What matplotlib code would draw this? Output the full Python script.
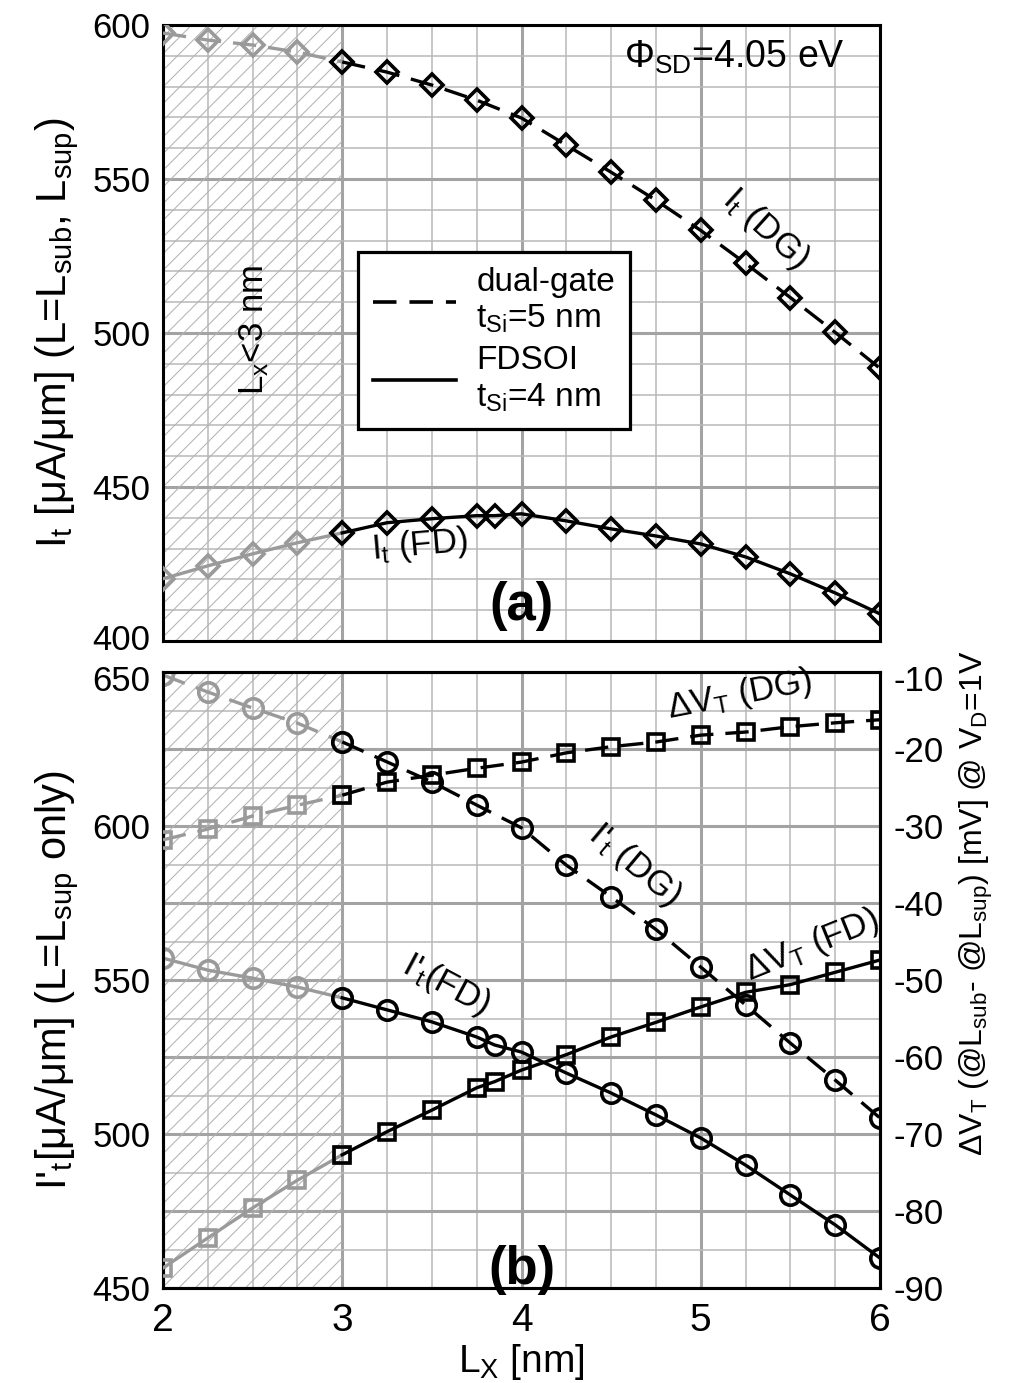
import numpy as np
import matplotlib
matplotlib.use("Agg")
import matplotlib.pyplot as plt
import matplotlib.transforms as mtransforms
from matplotlib.lines import Line2D
from matplotlib.ticker import MultipleLocator, FuncFormatter

plt.rcParams['font.family'] = ['Liberation Sans', 'DejaVu Sans']
plt.rcParams['mathtext.fontset'] = 'custom'
plt.rcParams['mathtext.rm'] = 'Liberation Sans'
plt.rcParams['mathtext.it'] = 'Liberation Sans:italic'
plt.rcParams['mathtext.bf'] = 'Liberation Sans:bold'
plt.rcParams['mathtext.default'] = 'regular'
plt.rcParams['axes.unicode_minus'] = False
plt.rcParams['hatch.linewidth'] = 0.75
plt.rcParams['hatch.color'] = '#b3b3b3'

# ---------------- data ----------------
L = [2.0, 2.25, 2.5, 2.75, 3.0, 3.25, 3.5, 3.75, 4.0, 4.25, 4.5, 4.75, 5.0, 5.25, 5.5, 5.75, 6.0]
L_fd = [2.0, 2.25, 2.5, 2.75, 3.0, 3.25, 3.5, 3.75, 3.85, 4.0, 4.25, 4.5, 4.75, 5.0, 5.25, 5.5, 5.75, 6.0]

# (a) I_t [uA/um]
It_DG = [597.4, 595.1, 593.5, 591.2, 588.0, 584.7, 580.5, 575.6, 569.8, 561.0, 552.2, 543.1,
         533.3, 522.6, 511.5, 500.2, 488.5]
It_FD = [420.2, 424.4, 428.3, 431.9, 435.1, 438.4, 439.7, 440.7, 440.7, 441.3, 439.0, 436.4,
         434.1, 431.5, 427.3, 421.8, 415.6, 408.8]

# (b) I't [uA/um] (left axis)
Itp_DG = [649.0, 643.5, 638.3, 633.4, 627.3, 620.8, 614.3, 606.8, 599.4, 587.3, 577.0, 566.4,
          554.2, 541.9, 529.5, 517.5, 505.2]
Itp_FD = [557.1, 553.2, 550.6, 547.7, 544.2, 540.3, 536.4, 531.5, 528.9, 526.6, 519.8, 513.3,
          506.2, 498.7, 489.9, 480.2, 470.5, 459.7]

# (b) delta V_T [mV] (right axis)
dVT_DG = [-31.8, -30.4, -28.7, -27.3, -26.0, -24.3, -23.4, -22.5, -21.7, -20.5, -19.7, -19.1,
          -18.2, -17.8, -17.1, -16.6, -16.2]
dVT_FD = [-87.4, -83.5, -79.6, -76.0, -72.7, -69.7, -66.9, -64.0, -63.2, -61.7, -59.7, -57.4,
          -55.5, -53.5, -51.6, -50.6, -49.0, -47.4]

yticksA = [400, 450, 500, 550, 600]
yticksB = [450, 475, 500, 525, 550, 575, 600, 625, 650]
yticksB2 = [-90, -80, -70, -60, -50, -40, -30, -20, -10]
xticks = [2, 3, 4, 5, 6]

L_CUT = 3.0

# ---------------- style ----------------
GRAY = '#9a9a9a'
LW = 2.4
MEW = 2.6
DASH = (0, (7.0, 3.6))
FS_YTICK = 25
FS_XTICK = 28
FS_YLAB = 30

fig = plt.figure(figsize=(10.13, 13.83), dpi=100)
axA = fig.add_axes([163/1013, 1-641/1383, 717/1013, 616/1383])
axB = fig.add_axes([163/1013, 1-1288/1383, 717/1013, 616/1383])


def plot_split(ax, x, y, ls, marker, ms):
    x = np.asarray(x); y = np.asarray(y)
    m1 = x <= L_CUT
    m2 = x >= L_CUT
    ax.plot(x[m1], y[m1], color=GRAY, ls=ls, lw=LW, marker=marker, ms=ms,
            mfc='none', mec=GRAY, mew=MEW, zorder=3)
    ax.plot(x[m2], y[m2], color='k', ls=ls, lw=LW, marker=marker, ms=ms,
            mfc='none', mec='k', mew=MEW, zorder=4)


def style_axes(ax):
    ax.set_xlim(2, 6)
    ax.set_xticks(xticks)
    ax.xaxis.set_minor_locator(MultipleLocator(0.25))
    ax.grid(True, which='major', color='#a3a3a3', lw=2.2)
    ax.grid(True, which='minor', color='#b8b8b8', lw=1.1)
    ax.set_axisbelow(True)
    ax.tick_params(which='both', length=0)
    ax.tick_params(axis='y', pad=9, labelsize=FS_YTICK)
    ax.tick_params(axis='x', pad=11, labelsize=FS_XTICK)
    for s in ax.spines.values():
        s.set_linewidth(2.2)
        s.set_color('k')
    ax.axvspan(2, L_CUT, facecolor='none', edgecolor='#b3b3b3', hatch='//', lw=0, zorder=1)


# ---------------- panel (a) ----------------
style_axes(axA)
axA.set_ylim(400, 600)
axA.set_yticks(yticksA)
axA.yaxis.set_minor_locator(MultipleLocator(10))
axA.tick_params(axis='x', labelbottom=False)
plot_split(axA, L, It_DG, DASH, 'D', 11)
plot_split(axA, L_fd, It_FD, '-', 'D', 11)
axA.set_ylabel(r'I$_t$ [μA/μm] (L=L$_{sub}$, L$_{sup}$)', fontsize=FS_YLAB, labelpad=8)

axA.text(5.19, 589.6, r'Φ$_{SD}$=4.05 eV', fontsize=27, ha='center', va='center')
axA.text(5.36, 534, r'I$_t$ (DG)', fontsize=25, ha='center', va='center', rotation=-42)
axA.text(3.43, 431, r'I$_t$ (FD)', fontsize=25, ha='center', va='center', rotation=5)
axA.text(4.0, 411.5, '(a)', fontsize=38, fontweight='bold', ha='center', va='center')
axA.text(2.51, 501, r'L$_x$<3 nm', fontsize=25, ha='center', va='center', rotation=90)

handles = [Line2D([], [], color='k', lw=2.6, ls=(0, (6.5, 3.6))),
           Line2D([], [], color='k', lw=2.6, ls='-')]
labels = ['dual-gate\nt$_{Si}$=5 nm', 'FDSOI\nt$_{Si}$=4 nm']
leg = axA.legend(handles, labels, loc='upper left', bbox_to_anchor=(0.272, 0.6315),
                 borderaxespad=0, fontsize=24, frameon=True, fancybox=False,
                 edgecolor='k', framealpha=1, handlelength=2.5, handletextpad=0.6,
                 borderpad=0.45, labelspacing=0.3)
leg.get_frame().set_linewidth(2.3)
leg.set_zorder(10)

# ---------------- panel (b) ----------------
style_axes(axB)
axB.set_ylim(450, 650)
axB.set_yticks(yticksB)
axB.yaxis.set_minor_locator(MultipleLocator(12.5))
axB.yaxis.set_major_formatter(FuncFormatter(lambda v, p: f'{v:.0f}' if abs(v % 50) < 1e-6 else ''))
axB.set_xlabel(r'L$_X$ [nm]', fontsize=28, labelpad=2)
axB.set_ylabel(r"I$'_t$[μA/μm] (L=L$_{sup}$ only)", fontsize=FS_YLAB, labelpad=8)

axB2 = axB.twinx()
axB2.set_xlim(2, 6)
axB2.set_ylim(-90, -10)
axB2.set_yticks(yticksB2)
axB2.tick_params(which='both', length=0, labelsize=FS_YTICK, pad=10)
for s in axB2.spines.values():
    s.set_linewidth(2.2)
axB2.set_ylabel(r'ΔV$_T$ (@L$_{sub}$- @L$_{sup}$) [mV] @ V$_D$=1V', fontsize=23,
                rotation=90)
axB2.yaxis.set_label_coords(1.108, 0.625)

plot_split(axB, L, Itp_DG, DASH, 'o', 14)
plot_split(axB, L_fd, Itp_FD, '-', 'o', 14)
plot_split(axB2, L, dVT_DG, DASH, 's', 12)
plot_split(axB2, L_fd, dVT_FD, '-', 's', 12)

axB.text(5.22, 642.5, r'ΔV$_T$ (DG)', fontsize=25, ha='center', va='center', rotation=11)
axB.text(4.63, 587.3, r"I$'_t$ (DG)", fontsize=25, ha='center', va='center', rotation=-40)
axB.text(5.62, 561.4, r'ΔV$_T$ (FD)', fontsize=25, ha='center', va='center', rotation=22)
axB.text(3.58, 548.4, r"I$'_t$(FD)", fontsize=25, ha='center', va='center', rotation=-28)
axB.text(4.0, 456, '(b)', fontsize=38, fontweight='bold', ha='center', va='center')

# nudge the two tick labels that meet between the panels apart (as in the reference)
up = mtransforms.ScaledTranslation(0, 3/72, fig.dpi_scale_trans)
down = mtransforms.ScaledTranslation(0, -4/72, fig.dpi_scale_trans)
tA = axA.yaxis.get_major_ticks()[0]
tA.label1.set_transform(tA.label1.get_transform() + up)
tB = axB.yaxis.get_major_ticks()[len(yticksB) - 1]
tB.label1.set_transform(tB.label1.get_transform() + down)
tB2 = axB2.yaxis.get_major_ticks()[len(yticksB2) - 1]
tB2.label2.set_transform(tB2.label2.get_transform() + down)

fig.savefig('out.png', dpi=100)
